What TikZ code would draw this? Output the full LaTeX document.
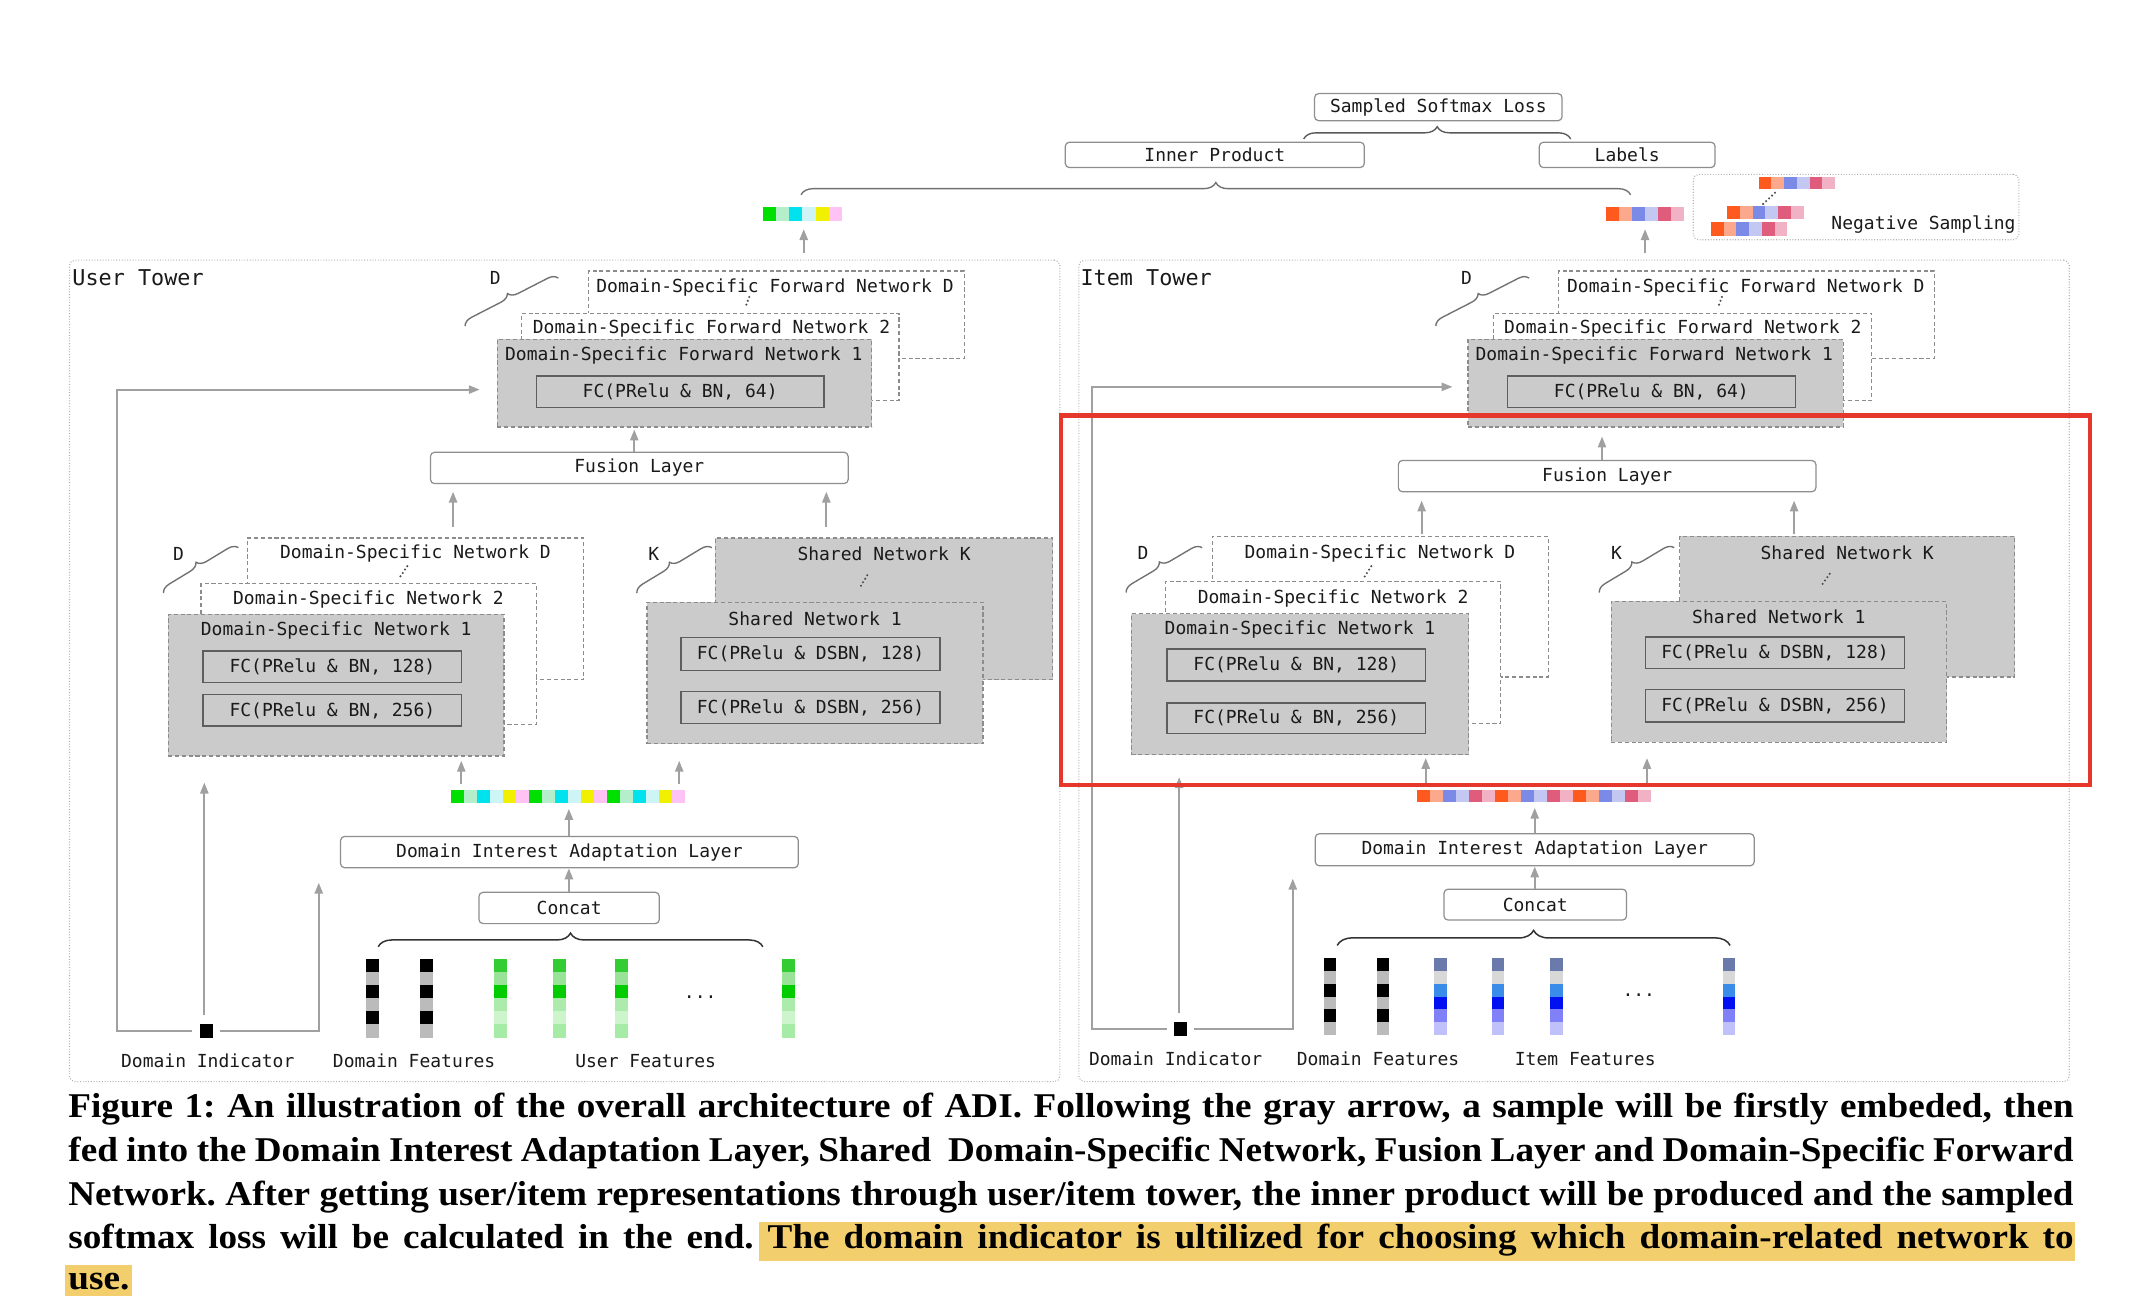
\documentclass[tikz,border=0pt]{standalone}
\usepackage{fontspec}
\setmainfont{Liberation Serif}
\newfontfamily\capserif[FakeStretch=1.07]{Liberation Serif}
\newfontfamily\monofont{DejaVu Sans Mono}
\usetikzlibrary{arrows.meta,decorations.pathreplacing}
\definecolor{txtc}{HTML}{1A1A1A}
\definecolor{boxgray}{HTML}{CBCBCB}
\definecolor{dashc}{HTML}{8C8C8C}
\definecolor{fcc}{HTML}{5E5E5E}
\definecolor{rc}{HTML}{8E8E8E}
\definecolor{towc}{HTML}{B0B0B0}
\definecolor{arrc}{HTML}{A0A0A0}
\definecolor{brcc}{HTML}{707070}
\definecolor{redc}{HTML}{E5372B}
\definecolor{hlc}{HTML}{F3CE6C}
\definecolor{uva}{HTML}{00E000}
\definecolor{uvb}{HTML}{B4EECB}
\definecolor{uvc}{HTML}{00E3EE}
\definecolor{uvd}{HTML}{CDF5F5}
\definecolor{uve}{HTML}{F0F000}
\definecolor{uvf}{HTML}{FFC2F4}
\definecolor{iva}{HTML}{FF5A1E}
\definecolor{ivb}{HTML}{FBA88C}
\definecolor{ivc}{HTML}{7A8AE6}
\definecolor{ivd}{HTML}{C2C8F2}
\definecolor{ive}{HTML}{E05C7C}
\definecolor{ivf}{HTML}{F2B2C6}
\definecolor{gfa}{HTML}{33CC33}
\definecolor{gfb}{HTML}{99E399}
\definecolor{gfc}{HTML}{00CC00}
\definecolor{gfd}{HTML}{ADEBAD}
\definecolor{gfe}{HTML}{CCF5CC}
\definecolor{gff}{HTML}{A6EBA6}
\definecolor{bfa}{HTML}{6A7AAA}
\definecolor{bfb}{HTML}{D8D8D8}
\definecolor{bfc}{HTML}{3A8CE8}
\definecolor{bfd}{HTML}{0010F0}
\definecolor{bfe}{HTML}{8080F8}
\definecolor{bff}{HTML}{C0C0FA}
\definecolor{dfg}{HTML}{BBBBBB}
\newcommand\bx[7]{\node[#6, minimum width={(#4)-(#2)}, minimum height={(#5)-(#3)}] (#1) at ({((#2)+(#4))/2},{((#3)+(#5))/2}) {#7};}
\newcommand\hcells[5]{\foreach \cc [count=\ii from 0] in {#5} {\fill[\cc] ({#1+\ii*#3},{#2}) rectangle ++(#3,#4);}}
\newcommand\vcells[5]{\foreach \cc [count=\ii from 0] in {#5} {\fill[\cc] ({#1},{#2+\ii*#4}) rectangle ++(#3,#4);}}
\newcommand\capfont{\capserif\bfseries\fontsize{25.5}{32}\selectfont\frenchspacing}
\begin{document}
\begin{tikzpicture}[x=1pt,y=-1pt,
 mono/.style={font=\monofont\fontsize{13.2}{15}\selectfont, text=txtc, inner sep=0pt},
 big/.style={font=\monofont\fontsize{16}{18}\selectfont, text=txtc, inner sep=0pt},
 dbox/.style={draw=dashc, dash pattern=on 3pt off 2pt, line width=0.9pt, fill=white, inner sep=0pt},
 gbox/.style={dbox, fill=boxgray},
 fcbox/.style={draw=fcc, line width=1pt, inner sep=0pt, mono},
 rbox/.style={draw=rc, rounded corners=3pt, line width=0.9pt, fill=white, inner sep=0pt, mono},
 tower/.style={draw=towc, dash pattern=on 0.7pt off 1.3pt, line width=0.8pt, rounded corners=4pt, inner sep=0pt},
 arr/.style={draw=arrc, line width=1.5pt, -{Triangle[length=8pt,width=6pt]}},
 brc/.style={decorate, decoration={brace, amplitude=#1}, draw=brcc, line width=1pt},
 brc/.default=7pt,
 dk/.style={decorate, decoration={brace, amplitude=#1}, draw=black!80, line width=1.1pt},
 dk/.default=10pt,
 ell/.style={draw=black!70, line width=1.7pt, dash pattern=on 0pt off 3pt, line cap=round},
 ind/.style={fill=black, inner sep=0pt},
 vec/.style={inner sep=0pt}
]
\useasboundingbox (0,0) rectangle (1568,951.4);

% ================= towers =================
\bx{utower}{51}{191}{778}{794}{tower}{}
\bx{itower}{792}{191}{1519}{794}{tower}{}
\node[big, anchor=west] (utl) at (53,204) {User Tower};
\node[big, anchor=west] (itl) at (793,204) {Item Tower};

% ================= top =================
\bx{ssl}{965}{68.7}{1146.7}{88.6}{rbox}{Sampled Softmax Loss}
\bx{ip}{782}{104.4}{1001.5}{123}{rbox}{Inner Product}
\bx{lbl}{1130}{104.4}{1259}{123}{rbox}{Labels}
\draw[brc=9pt, draw=black!65] (957,102) -- (1153,102);
\draw[brc=9pt] (588,143) -- (1197,143);
\bx{negbox}{1243}{128}{1482}{176}{tower}{}
\node[mono] (negt) at (1412,165) {Negative Sampling};
\hcells{1291}{130}{9.33}{9}{iva,ivb,ivc,ivd,ive,ivf}
\hcells{1268}{151}{9.33}{10}{iva,ivb,ivc,ivd,ive,ivf}
\hcells{1256}{163}{9.33}{10}{iva,ivb,ivc,ivd,ive,ivf}
\draw[ell] (1303,141.5) -- (1294,150);

% output vectors
\bx{uout}{560}{152}{618}{162}{vec}{}
\hcells{560}{152}{9.67}{10}{uva,uvb,uvc,uvd,uve,uvf}
\bx{iout}{1179}{152}{1236}{162}{vec}{}
\hcells{1179}{152}{9.5}{10}{iva,ivb,ivc,ivd,ive,ivf}
\draw[arr, shorten <=5pt, shorten >=6pt] (utower.north -| 590,0) -- (uout.south -| 590,0);
\draw[arr, shorten <=5pt, shorten >=6pt] (itower.north -| 1207.6,0) -- (iout.south -| 1207.6,0);

% ================= USER TOWER =================
\bx{ufD}{432}{199}{708}{263}{dbox}{}
\node[mono, anchor=west] (ufDt) at (437.6,211) {Domain-Specific Forward Network D};
\draw[ell] (550,218) -- (547,226);
\bx{uf2}{383}{230}{660}{294}{dbox}{}
\node[mono, anchor=west] (uf2t) at (391,241) {Domain-Specific Forward Network 2};
\bx{uf1}{365}{249}{640}{313.4}{gbox}{}
\node[mono, anchor=west] (uf1t) at (370.6,261) {Domain-Specific Forward Network 1};
\bx{ufc}{393.6}{276}{605}{299}{fcbox}{FC(PRelu \& BN, 64)}
\draw[brc] (341.4,239.3) -- (410,204.1);
\node[mono] (uDa) at (363.6,204) {D};

\bx{ufus}{316}{332}{622.6}{355}{rbox}{Fusion Layer}
\draw[arr, shorten >=1.5pt] (ufus.north -| 465.6,0) -- (uf1.south -| 465.6,0);

\bx{udsnD}{181.5}{395}{428.5}{499}{dbox}{}
\node[mono] (udsnDt) at (305,406.7) {Domain-Specific Network D};
\draw[ell] (299,415.6) -- (293,424.5);
\bx{udsn2}{147.5}{428.5}{393.6}{532}{dbox}{}
\node[mono] (udsn2t) at (270.5,440) {Domain-Specific Network 2};
\bx{udsn1}{123.5}{451}{370}{555}{gbox}{}
\node[mono] (udsn1t) at (246.8,463) {Domain-Specific Network 1};
\bx{ufc128}{149}{478}{339}{501}{fcbox}{FC(PRelu \& BN, 128)}
\bx{ufc256}{149}{510}{339}{533}{fcbox}{FC(PRelu \& BN, 256)}
\draw[brc] (120,435.4) -- (175,402);
\node[mono] (uDb) at (131,406.7) {D};

\bx{usnK}{525}{395}{772.7}{499}{gbox}{}
\node[mono] (usnKt) at (649,406.7) {Shared Network K};
\draw[ell] (632,430) -- (638,420);
\bx{usn1}{475}{442}{721.6}{546}{gbox}{}
\node[mono] (usn1t) at (598.3,454.6) {Shared Network 1};
\bx{ufs128}{500}{468}{690}{492}{fcbox}{FC(PRelu \& DSBN, 128)}
\bx{ufs256}{500}{507.6}{690}{531}{fcbox}{FC(PRelu \& DSBN, 256)}
\draw[brc] (467.5,435.4) -- (522.6,402);
\node[mono] (uKa) at (480,406.7) {K};

\draw[arr, shorten <=8pt, shorten >=5.5pt] (udsnD.north -| 332.6,0) -- (ufus.south -| 332.6,0);
\draw[arr, shorten <=8pt, shorten >=5.5pt] (usnK.north -| 606.6,0) -- (ufus.south -| 606.6,0);

\bx{uvec}{331}{580}{502.6}{589.6}{vec}{}
\hcells{331}{580}{9.533}{9.6}{uva,uvb,uvc,uvd,uve,uvf,uva,uvb,uvc,uvd,uve,uvf,uva,uvb,uvc,uvd,uve,uvf}
\draw[arr, shorten <=4.4pt, shorten >=3pt] (uvec.north -| 338.6,0) -- (udsn1.south -| 338.6,0);
\draw[arr, shorten <=4.4pt, shorten >=12pt] (uvec.north -| 498.6,0) -- (usn1.south -| 498.6,0);

\bx{udial}{250}{614}{586}{637}{rbox}{Domain Interest Adaptation Layer}
\draw[arr, shorten >=4pt] (udial.north -| 417.6,0) -- (uvec.south -| 417.6,0);
\bx{ucon}{351.6}{655}{484}{678}{rbox}{Concat}
\draw[arr] (ucon.north -| 417.6,0) -- (udial.south -| 417.6,0);
\draw[dk] (277.6,695) -- (560,695);

\vcells{269}{704.3}{9.5}{9.55}{black,dfg,black,dfg,black,dfg}
\vcells{308.2}{704.3}{9.5}{9.55}{black,dfg,black,dfg,black,dfg}
\vcells{362.4}{704.3}{9.6}{9.55}{gfa,gfb,gfc,gfd,gfe,gff}
\vcells{405.9}{704.3}{9.6}{9.55}{gfa,gfb,gfc,gfd,gfe,gff}
\vcells{451.6}{704.3}{9.6}{9.55}{gfa,gfb,gfc,gfd,gfe,gff}
\vcells{574.2}{704.3}{9.6}{9.55}{gfa,gfb,gfc,gfd,gfe,gff}
\node[mono, anchor=base] (udots) at (514,733) {...};

\bx{uind}{146.5}{751.5}{156}{762}{ind}{}
\coordinate (uLturn) at (86,286);
\coordinate (uRend) at (234,648);
\coordinate (uVend) at (150,574.5);
\draw[arr, shorten <=5pt, shorten >=12.4pt] (uind.west) -| (uLturn) -- (uf1.west |- uLturn);
\draw[arr, shorten <=5pt] (uind.east) -| (uRend);
\draw[arr, shorten <=6pt] (uind.north -| uVend) -- (uVend);

\node[mono] (uil) at (152.5,779) {Domain Indicator};
\node[mono] (udfl) at (304,779) {Domain Features};
\node[mono] (ufl) at (474,779) {User Features};

% ================= ITEM TOWER =================
\bx{ifD}{1144}{199}{1420}{263}{dbox}{}
\node[mono, anchor=west] (ifDt) at (1150.2,211) {Domain-Specific Forward Network D};
\draw[ell] (1264,218) -- (1261,226);
\bx{if2}{1096.6}{230}{1374}{294}{dbox}{}
\node[mono, anchor=west] (if2t) at (1104,241) {Domain-Specific Forward Network 2};
\bx{if1}{1077.7}{249}{1353}{313.4}{gbox}{}
\node[mono, anchor=west] (if1t) at (1083,261) {Domain-Specific Forward Network 1};
\bx{ifc}{1106.5}{276}{1318}{299}{fcbox}{FC(PRelu \& BN, 64)}
\draw[brc] (1054,239.3) -- (1122.6,204.1);
\node[mono] (iDa) at (1076.6,204) {D};

\bx{ifus}{1026.5}{338}{1333}{361}{rbox}{Fusion Layer}
\draw[arr, shorten >=6.6pt] (ifus.north -| 1176,0) -- (if1.south -| 1176,0);

\bx{idsnD}{890}{393.6}{1136.5}{497}{dbox}{}
\node[mono] (idsnDt) at (1013,406) {Domain-Specific Network D};
\draw[ell] (1006.6,415.6) -- (1001,424.5);
\bx{idsn2}{855.6}{427}{1101.6}{531}{dbox}{}
\node[mono] (idsn2t) at (978.6,439) {Domain-Specific Network 2};
\bx{idsn1}{830.6}{450.5}{1078}{554}{gbox}{}
\node[mono] (idsn1t) at (954.3,462) {Domain-Specific Network 1};
\bx{ifc128}{856.6}{476.5}{1046.6}{500}{fcbox}{FC(PRelu \& BN, 128)}
\bx{ifc256}{856.6}{516}{1046.6}{538.6}{fcbox}{FC(PRelu \& BN, 256)}
\draw[brc] (826.7,435) -- (882.6,402);
\node[mono] (iDb) at (839,406) {D};

\bx{isnK}{1233}{393.6}{1479}{497}{gbox}{}
\node[mono] (isnKt) at (1356,406) {Shared Network K};
\draw[ell] (1338,428.6) -- (1344,420);
\bx{isn1}{1182.7}{441.5}{1429}{544.8}{gbox}{}
\node[mono] (isn1t) at (1305.8,453) {Shared Network 1};
\bx{ifs128}{1208}{467.7}{1398}{490.5}{fcbox}{FC(PRelu \& DSBN, 128)}
\bx{ifs256}{1208}{506.3}{1398}{530}{fcbox}{FC(PRelu \& DSBN, 256)}
\draw[brc] (1174,435) -- (1229,402);
\node[mono] (iKa) at (1186.6,406) {K};

\draw[arr, shorten <=1pt, shorten >=6pt] (idsnD.north -| 1043.6,0) -- (ifus.south -| 1043.6,0);
\draw[arr, shorten <=1pt, shorten >=6pt] (isnK.north -| 1317,0) -- (ifus.south -| 1317,0);

\bx{ivec}{1040}{579.7}{1211.6}{589}{vec}{}
\hcells{1040}{579.7}{9.533}{9.3}{iva,ivb,ivc,ivd,ive,ivf,iva,ivb,ivc,ivd,ive,ivf,iva,ivb,ivc,ivd,ive,ivf}
\draw[arr, shorten <=5pt, shorten >=2pt] (ivec.north -| 1046.6,0) -- (idsn1.south -| 1046.6,0);
\draw[arr, shorten <=5pt, shorten >=11.2pt] (ivec.north -| 1209,0) -- (isn1.south -| 1209,0);

\bx{idial}{965.5}{612}{1287.7}{635.6}{rbox}{Domain Interest Adaptation Layer}
\draw[arr, shorten >=3.8pt] (idial.north -| 1126.6,0) -- (ivec.south -| 1126.6,0);
\bx{icon}{1060}{652.7}{1194}{675.4}{rbox}{Concat}
\draw[arr] (icon.north -| 1126.6,0) -- (idial.south -| 1126.6,0);
\draw[dk=11pt] (981.6,694) -- (1270,694);

\vcells{971.6}{703}{9}{9.5}{black,dfg,black,dfg,black,dfg}
\vcells{1010.6}{703}{9}{9.5}{black,dfg,black,dfg,black,dfg}
\vcells{1052.6}{703}{9.3}{9.5}{bfa,bfb,bfc,bfd,bfe,bff}
\vcells{1095}{703}{9.3}{9.5}{bfa,bfb,bfc,bfd,bfe,bff}
\vcells{1138}{703}{9.3}{9.5}{bfa,bfb,bfc,bfd,bfe,bff}
\vcells{1264.6}{703}{9.3}{9.5}{bfa,bfb,bfc,bfd,bfe,bff}
\node[mono, anchor=base] (idots) at (1203,731.5) {...};

\bx{iind}{861.6}{750}{871.5}{760.6}{ind}{}
\coordinate (iLturn) at (801.5,284);
\coordinate (iRend) at (949,645);
\coordinate (iVend) at (865.6,570.5);
\draw[arr, shorten <=5pt, shorten >=11pt] (iind.west) -| (iLturn) -- (if1.west |- iLturn);
\draw[arr, shorten <=5pt] (iind.east) -| (iRend);
\draw[arr, shorten <=6pt] (iind.north -| iVend) -- (iVend);

\node[mono] (iil) at (863,777.5) {Domain Indicator};
\node[mono] (idfl) at (1011.6,777.5) {Domain Features};
\node[mono] (ifl) at (1163.7,777.5) {Item Features};

% red frame
\bx{redbox}{779}{305}{1534.5}{576}{draw=redc, line width=3pt, inner sep=0pt}{}

% ================= caption =================
\fill[hlc] (557,897) rectangle (1523.5,926);
\fill[hlc] (48,928.5) rectangle (97,951.4);
\node[anchor=base west, inner sep=0pt, font=\capfont] (cap1) at (50,820) {\makebox[1472pt][s]{Figure 1: An illustration of the overall architecture of ADI. Following the gray arrow, a sample will be firstly embeded, then}};
\node[anchor=base west, inner sep=0pt, font=\capfont] (cap2) at (50,852.5) {\makebox[1472pt][s]{fed into the Domain Interest Adaptation Layer, Shared\ \ Domain-Specific Network, Fusion Layer and Domain-Specific Forward}};
\node[anchor=base west, inner sep=0pt, font=\capfont] (cap3) at (50,885) {\makebox[1472pt][s]{Network. After getting user/item representations through user/item tower, the inner product will be produced and the sampled}};
\node[anchor=base west, inner sep=0pt, font=\capfont] (cap4) at (50,916.5) {\makebox[1472pt][s]{softmax loss will be calculated in the end. The domain indicator is ultilized for choosing which domain-related network to}};
\node[anchor=base west, inner sep=0pt, font=\capfont] (cap5) at (50,946.5) {use.};
\end{tikzpicture}
\end{document}
